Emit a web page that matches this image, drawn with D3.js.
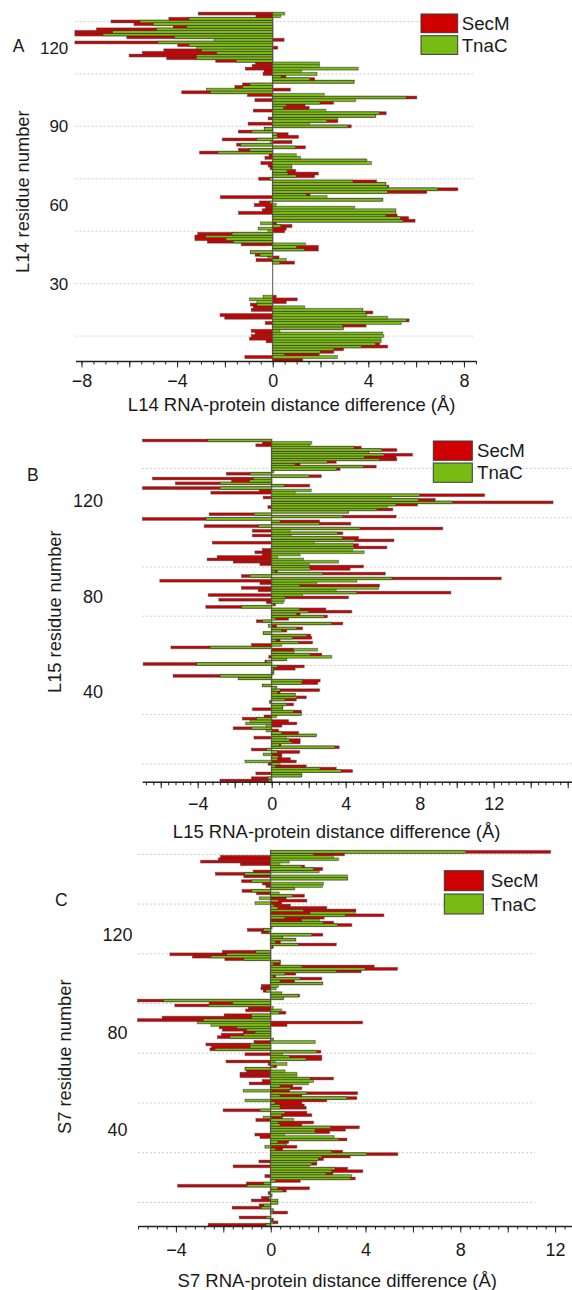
<!DOCTYPE html>
<html>
<head>
<meta charset="utf-8">
<script src="https://cdn.jsdelivr.net/npm/d3@7"></script>
<style>
body{margin:0;background:#fff;}
svg{display:block;font-family:"Liberation Sans",Arial,Helvetica,sans-serif;}
</style>
</head>
<body>
<div id="chart"></div>
<script>
// residue 1 .. n, distance difference in angstrom
var l14SecM = [1.25, -1.16, 1.94, 2.55, 2.96, 4.8, 4.46, -0.27, -0.96, -0.89,
    -0.73, -0.89, 2.95, 3.9, -0.3, 5.7, -2.0, -2.2, 4.18, -0.89,
    -0.81, -0.92, 0.56, 1.02, 0.14, 0, 0, 0, 0, 0,
    0, 0, 0, 0, 0, 0, 0, 0.9, -0.69, 0.26,
    -0.73, -0.92, 1.9, 1.9, -1.31, -2.72, -3.25, -3.25, -3.13, 0.5,
    0.56, 0.8, 0.15, 5.95, 5.68, 5.2, -1.42, -0.43, -0.3, -0.76,
    -0.55, 4.6, -2.18, 1.56, 6.44, 7.74, 4.85, 4.73, 4.34, -0.58,
    1.74, 1.9, 0.95, -0.1, -0.18, -0.49, 3.92, -0.32, -0.15, -3.05,
    -1.42, 1.36, -1.5, 0.8, -2.1, 1.07, 0.64, -1.42, -0.35, 3.28,
    -1.02, 2.72, -0.18, 4.3, 4.74, -0.8, 1.52, 1.35, 2.54, -0.74,
    6.02, -1.05, -3.8, 0.73, -1.58, -1.25, 3.4, 1.75, 0.55, -0.4,
    -0.36, -1.13, -0.85, -0.71, -2.38, -4.43, -6.0, -5.44, -4.55, 0.2,
    -3.97, -8.27, 0.47, -6.1, -8.27, -8.27, -7.36, -4.16, -5.8, -6.76,
    -4.34, -0.7, -3.1];
var l14TnaC = [0, 2.7, 0.49, 2.0, 2.55, 3.7, 4.3, 4.53, 4.53, 4.64,
    4.6, 0.3, 2.95, 2.93, 5.37, 5.6, 4.8, 3.92, 3.9, 3.77,
    1.33, -0.66, -0.66, -0.96, -0.4, 0, 0, 0, 0, 0,
    0, 0, 0, 0, 0, 0, 0, 0.3, 0.56, -0.2,
    -0.53, -0.92, 1.33, 0.99, 1.37, -1.65, -1.95, -2.8, -1.7, -0.2,
    -0.6, 0.34, -0.5, 5.45, 5.34, 4.73, 5.15, 5.15, 3.42, 0.14,
    -0.12, 4.6, 2.27, 1.4, 4.8, 6.9, 4.8, 4.73, 3.36, -0.12,
    0.98, 0.64, 0.6, 0.8, 0.8, 4.12, 3.92, 1.15, 0.98, -2.29,
    -0.96, 0.95, -1.34, -0.1, -0.66, 0.2, 0.18, -0.88, -0.35, 3.14,
    1.53, 2.26, 2.72, 4.3, 4.46, 2.22, 0.45, 0.56, 1.98, 3.47,
    5.58, 2.15, -2.6, -2.76, -1.25, -0.95, 3.4, 1.55, 0.35, 1.85,
    1.2, 3.57, 1.95, 1.95, -1.53, -3.2, -3.2, -2.34, -2.97, -3.18,
    -3.5, -4.8, -2.44, -4.1, -7.1, -6.7, -4.85, -3.6, -5.0, -5.55,
    -3.5, 0.33, 0.5];

var l15SecM = [-2.79, -1.08, 1.62, -0.85, 4.36, 3.48, 1.86, -0.18, 1.32, 1.0,
    0.54, 0.54, 1.5, -1.08, 3.64, 0.5, 1.53, 1.53, -0.95, 2.4,
    1.44, 0.36, -2.07, 0.54, 1.35, 0.9, -1.57, -0.4, 1.59, 1.59,
    -1.03, 0.6, 1.17, -0.1, 1.32, 1.86, 1.26, 0.45, 2.58, 0.27,
    -0.49, 2.49, 2.61, -1.8, -5.32, 0.1, 0.1, 1.26, 1.75, -6.94,
    -0.36, 0.81, -0.15, 2.7, 1.2, 1.17, -5.44, -1.08, 2.2, 0.45,
    2.16, 2.1, -0.45, 0.81, 1.66, 0.27, 3.84, -0.81, 0.9, 3.0,
    1.53, 4.32, 2.92, -3.55, 0.2, -0.27, -2.85, 4.14, -3.42, 9.68,
    -0.72, -1.62, 5.82, -0.63, -6.04, 12.4, -1.62, 6.13, 0.3, 4.23,
    4.95, -0.63, -2.07, -3.48, -2.94, -0.5, -0.9, -0.49, 6.22, 4.68,
    -3.19, 6.6, 4.68, -1.03, 3.84, -1.03, 9.24, -3.64, 4.27, 2.58,
    -6.97, 6.72, -3.37, 4.14, 6.54, -0.2, 7.87, 15.2, 8.83, -0.45,
    11.5, -3.28, -0.67, -6.97, 2.04, -5.19, -2.16, -6.43, 2.67, -2.43,
    0.1, 3.69, 5.64, 1.53, 3.48, 6.76, 6.72, 7.6, 5.23, 6.76,
    4.83, -0.85, -0.49, -6.97];
var l15TnaC = [-0.18, -0.2, 1.62, 1.62, 3.75, 2.61, 0.2, 0.45, -1.44, 0.32,
    0.36, -0.45, 0.3, -0.27, 3.42, 0.4, 1.08, 0.95, 0.77, 2.4,
    0.54, -0.3, -1.08, -0.3, -1.4, -1.17, -0.81, 0.27, 1.59, 1.17,
    0.6, 0.6, 0.81, -0.1, 0.72, 1.35, 1.26, 0.3, 0.45, 0.27,
    -0.49, 1.62, 1.66, -1.8, -2.79, 0.1, 0.1, 0.1, 0.3, -4.05,
    -0.3, 0.81, 3.24, 2.07, 1.2, 2.47, -3.33, 0.54, 1.44, 0.23,
    1.13, 1.89, -0.45, 0.54, 1.35, -0.18, 3.24, -0.49, 0.2, 2.83,
    1.35, 1.98, 1.5, -1.62, 0.1, 0.63, 0.68, 0.72, 1.68, 4.6,
    3.48, 5.77, 1.5, 2.43, 4.6, 6.5, -1.17, 2.76, 0.2, 2.07,
    2.04, 2.02, 3.6, 1.71, 0.32, 1.53, 4.99, 4.36, 4.45, 4.41,
    2.29, 4.5, 3.82, 1.05, 3.55, 0.99, 4.77, -0.72, 2.58, 0.45,
    -3.55, 3.84, -0.95, 4.14, 5.68, 6.25, 6.72, 9.78, 7.93, 6.45,
    8.0, 1.26, 2.13, -2.79, 0.68, -2.79, -1.2, -0.99, 2.02, -1.17,
    0.1, 3.51, 4.95, 1.26, 3.0, 5.82, 5.0, 6.07, 5.23, 5.95,
    4.45, 2.07, 2.16, -3.46];

var s7SecM = [-2.63, 0.3, 0.1, -1.32, 0, 0.7, 0.1, -1.62, -0.48, 0.3,
    -0.8, -0.38, 0.05, -0.1, 0.65, 1.63, -3.92, -1.01, 1.24, 3.56,
    -0.24, 2.62, 3.88, 3.23, -1.58, 1.94, -0.49, 2.22, 3.35, 5.36,
    3.02, 0.5, 1.1, 0.65, 0.75, 3.21, -0.45, -0.66, 2.48, 3.14,
    3.73, 1.31, 1.8, -0.62, 0.5, 1.73, 1.52, -2.0, 1.49, 1.41,
    1.31, 2.36, 3.63, 1.31, 3.66, 0.79, 1.31, 0.93, -0.9, -0.35,
    2.64, -1.29, -1.29, -1.01, -1.08, 0.25, -0.1, -1.88, 2.15, 2.15,
    -1.08, 2.11, -2.56, -2.49, -2.73, -0.7, 0.1, -2.24, -2.07, -1.15,
    -2.03, -2.17, 0.68, 3.87, -5.61, -4.57, -1.96, 0.63, -1.05, -0.94,
    -4.04, -2.6, -5.61, 0.53, 1.21, 0.46, -0.31, -0.41, -0.38, 2.19,
    1.0, 2.15, 0.2, 1.05, 3.81, 5.34, 4.36, 0.4, 0.4, -1.93,
    -3.29, -4.25, -2.03, 0, 0.1, 2.76, 0.4, 1.05, 0.5, 2.19,
    -0.38, -0.97, 0.05, 3.42, 2.64, 1.3, 2.25, 4.77, 1.66, 3.59,
    2.36, 0.82, 0.46, 1.52, 0.65, 1.41, -0.59, -1.2, 1.0, -0.2,
    -0.34, -1.22, 3.23, -1.13, -2.32, -0.73, 2.18, 1.42, -1.27, -2.95,
    -2.2, -2.11, 3.11, 11.8];
var s7TnaC = [-0.2, 0.1, 0.05, -0.2, 0, 0.1, 0.1, -0.4, -0.3, 0.3,
    0.3, -0.1, 0.05, -0.05, 0.5, 0.3, -1.0, -0.3, 0.2, 3.38,
    3.42, 2.33, 2.57, 2.71, 1.63, 1.73, 1.94, 2.01, 2.15, 4.05,
    2.57, 0.2, -0.24, 0.65, 0.3, 2.86, 2.67, 0.58, 1.87, 1.87,
    2.53, 0.39, 0.32, 0.96, -0.31, 0.46, 0.6, -0.45, 0.39, 0.39,
    0.18, -1.08, 3.21, 0.39, 1.52, -1.15, 0.82, 0.39, 1.59, 1.8,
    1.66, 1.1, 1.1, 0.6, -1.08, 0.1, 0.68, 0.18, 1.49, 0.79,
    0.49, 1.94, -2.35, -0.87, -0.87, 1.87, 0.1, -1.72, -1.15, -0.66,
    -1.01, -1.43, -2.52, -3.09, -2.84, -0.8, -0.8, 0.35, 0.46, 0.1,
    -2.63, -1.6, -4.53, 0.53, 1.17, 0.46, -0.2, 0.23, 0.32, 2.19,
    0.39, 1.24, 0.1, 0.6, 2.78, 3.98, 1.31, 0.1, 0.39, -1.13,
    -2.52, -1.86, -0.63, 0, 0.05, 1.17, 0.2, 1.05, 0.5, 1.73,
    -0.1, -0.3, 0.05, 2.81, 2.22, 2.05, 0.6, 3.14, 3.56, 1.38,
    0.3, 0.14, -0.66, 0.32, -0.48, 0.93, 0.35, -0.8, 1.0, 2.18,
    2.22, -0.8, 3.23, 3.23, -1.1, 2.04, 1.8, 1.31, 0.39, 0.77,
    2.86, 2.64, 1.8, 8.23];

var seriesNames = ["SecM", "TnaC"];
var colors = {SecM: "#d10000", TnaC: "#78bb14"};

var l14XTicks = [-8, -4, 0, 4, 8];
var l15XTicks = [-4, 0, 4, 8, 12];
var s7XTicks = [-4, 0, 4, 8, 12];
var l14YTicks = [30, 60, 90, 120];
var l15YTicks = [40, 80, 120];
var s7YTicks = [40, 80, 120];
// dotted guide lines, in residue units
var l14Grid = [10, 30, 50, 70, 90, 110, 130];
var l15Grid = [8, 28.7, 49.4, 70.1, 90.8, 111.5, 132.2];
var s7Grid = [10.2, 30.6, 51, 71.4, 91.8, 112.2, 132.6, 153];

var svg = d3.select("#chart").append("svg").attr("width", 572).attr("height", 1290);

var stepTicks = function(domain, step){
    var lo = Math.ceil(domain[0] / step - 1e-9), hi = Math.floor(domain[1] / step + 1e-9);
    return d3.range(lo, hi + 1).map(function(i){ return +(i * step).toFixed(2); });
};

var drawPanel = function(p){
    var n = p.secm.length;
    var x = d3.scaleLinear().domain(p.xDomain).range(p.xRange);
    var y = d3.scaleLinear().domain([0.5, n + 0.5]).range([p.axisY, p.topY]);
    var g = svg.append("g");

    g.selectAll(".grid").data(p.grid).enter().append("line")
        .attr("x1", p.xRange[0]).attr("x2", p.gridEnd)
        .attr("y1", function(d){ return y(d); }).attr("y2", function(d){ return y(d); })
        .attr("stroke", "#cfcfcf").attr("stroke-width", 1).attr("stroke-dasharray", "2,2");

    // longer bar first, shorter one drawn on top of it
    var bars = [];
    p.secm.forEach(function(s, i){
        var t = p.tnac[i];
        var pair = [{r: i + 1, v: s, k: "SecM"}, {r: i + 1, v: t, k: "TnaC"}];
        if (Math.abs(t) > Math.abs(s)) pair.reverse();
        bars.push(pair[0], pair[1]);
    });
    bars = bars.filter(function(d){ return d.v !== 0; });
    var bh = y(0.5) - y(1.5);
    var barX = function(d){ return x(Math.min(0, d.v)); };
    var barW = function(d){ return Math.abs(x(d.v) - x(0)); };
    var barY = function(d){ return y(d.r + 0.5); };

    // soft grey halo under the bars
    g.append("g").selectAll("rect").data(bars).enter().append("rect")
        .attr("x", barX).attr("width", barW).attr("y", barY).attr("height", bh)
        .attr("fill", "none").attr("stroke", "#d4d4d4").attr("stroke-width", 1.8);
    g.append("g").selectAll("rect").data(bars).enter().append("rect")
        .attr("x", barX).attr("width", barW).attr("y", barY).attr("height", bh)
        .attr("fill", function(d){ return colors[d.k]; })
        .attr("stroke", "#2c2c2c").attr("stroke-width", 0.42);

    g.append("line").attr("x1", x(0)).attr("x2", x(0)).attr("y1", y(0.5)).attr("y2", y(n + 0.5))
        .attr("stroke", "#555").attr("stroke-width", 1);

    var ax = g.append("g").attr("transform", "translate(0," + p.axisY + ")");
    ax.call(d3.axisBottom(x).tickValues(stepTicks(p.xDomain, p.minorStep)).tickSize(3.5).tickSizeOuter(0).tickFormat(""));
    var maj = ax.append("g").call(d3.axisBottom(x).tickValues(stepTicks(p.xDomain, 2)).tickSize(6.5).tickSizeOuter(0).tickFormat(""));
    maj.select(".domain").remove();
    var lab = ax.append("g").call(d3.axisBottom(x).tickValues(p.xLabels).tickSize(0).tickPadding(p.labelPad).tickFormat(d3.format("d")));
    lab.select(".domain").remove();
    ax.selectAll(".domain").attr("stroke", "#222").attr("stroke-width", 1.6);
    ax.selectAll(".tick line").attr("stroke", "#222").attr("stroke-width", 1);
    ax.selectAll("text").attr("font-size", 18).attr("font-family", "Liberation Sans, Arial, sans-serif").attr("fill", "#1a1a1a");

    g.selectAll(".ytick").data(p.yTicks).enter().append("text")
        .attr("x", p.yTickX).attr("y", function(d){ return y(d); }).attr("dy", p.yTickDy)
        .attr("text-anchor", p.yTickAnchor).attr("font-size", p.yTickSize).attr("fill", "#1a1a1a")
        .text(function(d){ return d; });

    g.append("text").attr("x", p.xTitlePos[0]).attr("y", p.xTitlePos[1]).attr("dy", "0.35em")
        .attr("text-anchor", "middle").attr("font-size", 18.5).attr("fill", "#1a1a1a").text(p.xTitle);
    g.append("text").attr("transform", "translate(" + p.yTitlePos[0] + "," + p.yTitlePos[1] + ") rotate(-90)")
        .attr("dy", "0.35em").attr("text-anchor", "middle").attr("font-size", 18.3).attr("fill", "#1a1a1a").text(p.yTitle);
    g.append("text").attr("x", p.letterPos[0]).attr("y", p.letterPos[1]).attr("dy", "0.35em")
        .attr("font-size", 17.5).attr("fill", "#1a1a1a").text(p.letter);

    var L = p.legend;
    var lg = g.selectAll(".leg").data(seriesNames).enter().append("g")
        .attr("transform", function(d, i){ return "translate(" + L.x + "," + (L.y + i * (L.h + L.gap)) + ")"; });
    lg.append("rect").attr("width", L.w).attr("height", L.h)
        .attr("fill", function(d){ return colors[d]; }).attr("stroke", "#3a3a3a").attr("stroke-width", 1);
    lg.append("text").attr("x", L.tx - L.x).attr("y", L.h / 2).attr("dy", "0.35em")
        .attr("font-size", 18.7).attr("fill", "#1a1a1a").text(function(d){ return d; });
};

drawPanel({secm: l14SecM, tnac: l14TnaC, xDomain: [-8.25, 8.5], xRange: [75.5, 475.9], gridEnd: 473,
    axisY: 361, topY: 12.3, minorStep: 0.5, xLabels: l14XTicks, labelPad: 13.5,
    yTicks: l14YTicks, grid: l14Grid, yTickX: 68.3, yTickAnchor: "end", yTickDy: "0.35em", yTickSize: 17,
    xTitle: "L14 RNA-protein distance difference (Å)", xTitlePos: [291.7, 405],
    yTitle: "L14 residue number", yTitlePos: [23, 191.7], letter: "A", letterPos: [12.7, 45.7],
    legend: {x: 421, y: 14, w: 36.7, h: 18.7, gap: 3, tx: 461.7}});

drawPanel({secm: l15SecM, tnac: l15TnaC, xDomain: [-7, 16.2], xRange: [142.2, 571.4], gridEnd: 572,
    axisY: 781.7, topY: 439.3, minorStep: 0.4, xLabels: l15XTicks, labelPad: 15.8,
    yTicks: l15YTicks, grid: l15Grid, yTickX: 103, yTickAnchor: "end", yTickDy: "0.55em", yTickSize: 18,
    xTitle: "L15 RNA-protein distance difference (Å)", xTitlePos: [336.7, 831.7],
    yTitle: "L15 residue number", yTitlePos: [55, 611.7], letter: "B", letterPos: [27, 475],
    legend: {x: 433.3, y: 441, w: 39, h: 19.3, gap: 2.7, tx: 477}});

drawPanel({secm: s7SecM, tnac: s7TnaC, xDomain: [-5.6, 12.7], xRange: [138, 571.7], gridEnd: 535,
    axisY: 1226, topY: 850.7, minorStep: 0.4, xLabels: s7XTicks, labelPad: 17.5,
    yTicks: s7YTicks, grid: s7Grid, yTickX: 117.5, yTickAnchor: "middle", yTickDy: "0.35em", yTickSize: 18,
    xTitle: "S7 RNA-protein distance difference (Å)", xTitlePos: [337.3, 1280.7],
    yTitle: "S7 residue number", yTitlePos: [64.7, 1056.7], letter: "C", letterPos: [55, 900],
    legend: {x: 444.3, y: 870.7, w: 39, h: 20, gap: 3.3, tx: 490.7}});
</script>
</body>
</html>
